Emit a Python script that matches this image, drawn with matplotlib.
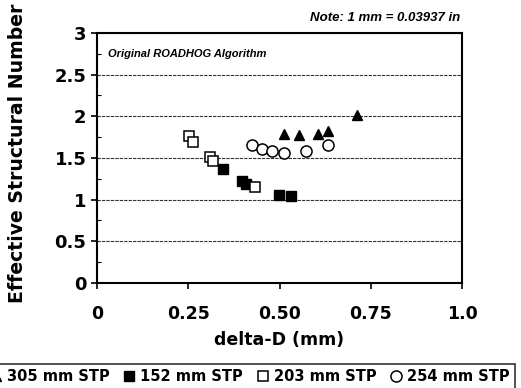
import matplotlib
matplotlib.use("Agg")
import matplotlib.pyplot as plt
from matplotlib.ticker import MultipleLocator

# effective SN vs deflection difference
d_305 = [0.512, 0.554, 0.606, 0.632, 0.711]
sn_305 = [1.79, 1.775, 1.79, 1.82, 2.01]

d_152 = [0.346, 0.396, 0.408, 0.499, 0.532]
sn_152 = [1.37, 1.22, 1.19, 1.05, 1.04]

d_203 = [0.252, 0.264, 0.310, 0.319, 0.433]
sn_203 = [1.76, 1.69, 1.51, 1.46, 1.15]

d_254 = [0.425, 0.451, 0.479, 0.512, 0.573, 0.632]
sn_254 = [1.66, 1.61, 1.58, 1.56, 1.58, 1.66]

xticks = [0, 0.25, 0.5, 0.75, 1.0]
xticklabels = ["0", "0.25", "0.50", "0.75", "1.0"]
yticks = [0, 0.5, 1, 1.5, 2, 2.5, 3]
yticklabels = ["0", "0.5", "1", "1.5", "2", "2.5", "3"]

BOLD = ["DejaVu Sans"]
plt.rcParams.update({
    "font.family": ["Liberation Sans", "DejaVu Sans"],
    "font.weight": "bold",
})

fig = plt.figure(figsize=(5.21, 3.88), dpi=100)
ax = fig.add_axes([0.186, 0.271, 0.701, 0.644])

ax.plot(d_305, sn_305, "^", color="black", ms=7.5, mec="black", label="305 mm STP", ls="none")
ax.plot(d_152, sn_152, "s", color="black", ms=7, mec="black", label="152 mm STP", ls="none")
ax.plot(d_203, sn_203, "s", mfc="white", ms=7, mec="black", mew=1.1, label="203 mm STP", ls="none")
ax.plot(d_254, sn_254, "o", mfc="white", ms=8, mec="black", mew=1.1, label="254 mm STP", ls="none")

ax.set_xlim(0, 1.0)
ax.set_ylim(0, 3)
ax.set_xticks(xticks)
ax.set_xticklabels(xticklabels, fontsize=12.5, fontweight="bold", family=BOLD)
ax.set_yticks(yticks)
ax.set_yticklabels(yticklabels, fontsize=13, fontweight="bold", family=BOLD)
ax.yaxis.set_minor_locator(MultipleLocator(0.25))
ax.tick_params(direction="out", length=4, width=1.2)
ax.tick_params(axis="x", pad=12)
ax.tick_params(axis="y", which="minor", direction="in", length=3, width=0.8)
ax.yaxis.grid(True, color="#333333", ls=(0, (3, 1)), lw=0.8)
ax.set_axisbelow(True)
for s in ax.spines.values():
    s.set_linewidth(1.5)

ax.set_xlabel("delta-D (mm)", fontsize=12.5, fontweight="bold", family=BOLD, labelpad=6)
ax.set_ylabel("Effective Structural Number", fontsize=13.6, fontweight="bold", family=BOLD)
ax.yaxis.set_label_coords(-0.192, 0.52)

ax.text(0.03, 0.915, "Original ROADHOG Algorithm", transform=ax.transAxes,
        fontsize=8, fontstyle="italic", fontweight="bold", va="center")
fig.text(0.883, 0.953, "Note: 1 mm = 0.03937 in", fontsize=9.5, fontstyle="italic",
         fontweight="bold", ha="right", va="center")

leg = fig.legend(loc="center", bbox_to_anchor=(0.48, 0.03), ncol=4,
                 prop={"family": BOLD, "weight": "bold", "size": 10.5},
                 frameon=True, fancybox=False, edgecolor="black", handlelength=0.7,
                 handletextpad=0.4, columnspacing=1.0, borderpad=0.35)
leg.get_frame().set_linewidth(1.2)

fig.savefig("out.png", dpi=100)
